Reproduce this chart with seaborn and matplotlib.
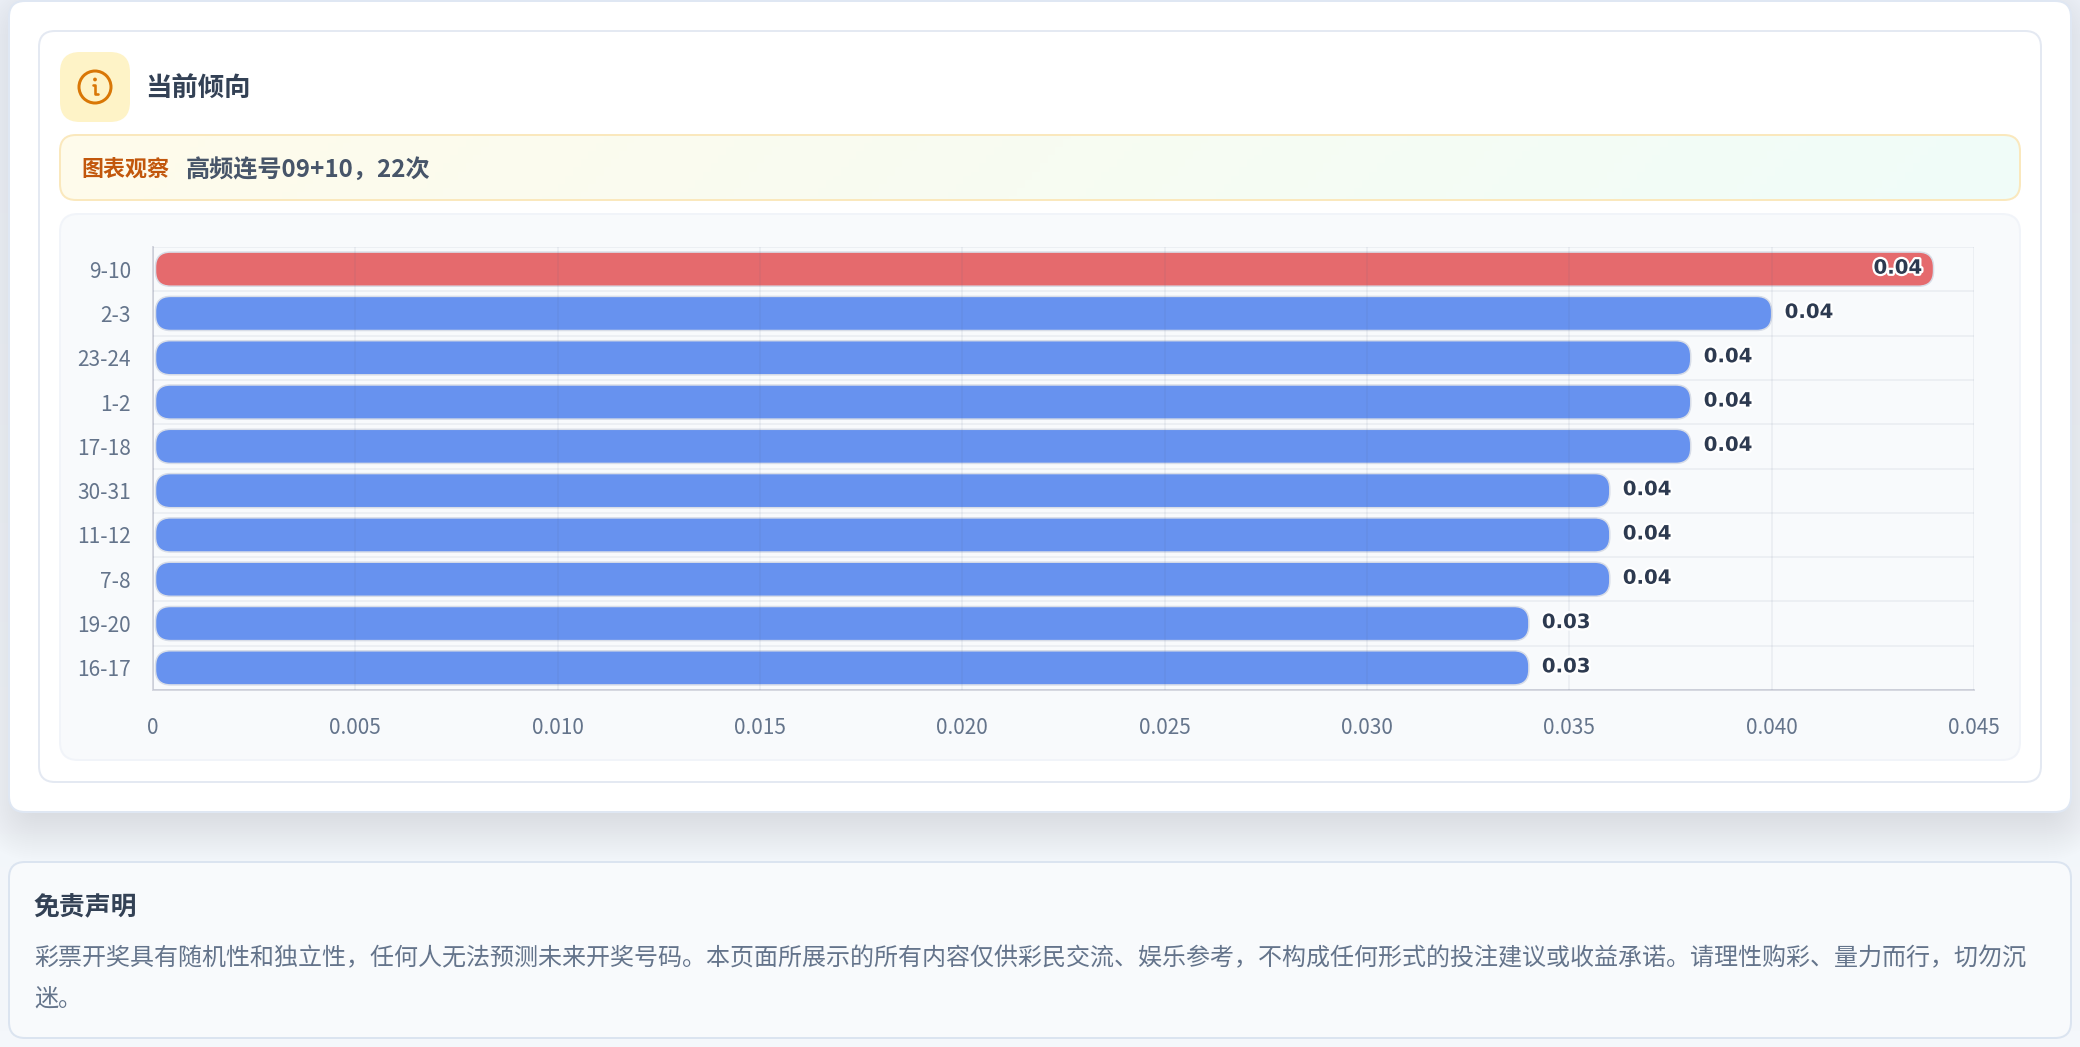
import numpy as np
import pandas as pd
import matplotlib
matplotlib.use("Agg")
import matplotlib.pyplot as plt
import matplotlib.patheffects as pe
from matplotlib.patches import FancyBboxPatch, Circle
import seaborn as sns

# values
pairs = ["9-10", "2-3", "23-24", "1-2", "17-18", "30-31", "11-12", "7-8", "19-20", "16-17"]
rates = [0.044, 0.040, 0.038, 0.038, 0.038, 0.036, 0.036, 0.036, 0.034, 0.034]
x_ticks = [0, 0.005, 0.010, 0.015, 0.020, 0.025, 0.030, 0.035, 0.040, 0.045]
x_tick_labels = ["0", "0.005", "0.010", "0.015", "0.020", "0.025", "0.030", "0.035", "0.040", "0.045"]

section_title = "当前倾向"
note_label = "图表观察"
note_text = "高频连号09+10，22次"
disclaimer_title = "免责声明"
disclaimer_lines = [
    "彩票开奖具有随机性和独立性，任何人无法预测未来开奖号码。本页面所展示的所有内容仅供彩民交流、娱乐参考，不构成任何形式的投注建议或收益承诺。请理性购彩、量力而行，切勿沉",
    "迷。",
]

W, H = 2080, 1047
PX = 0.72  # points per pixel at dpi 100
AX_BOX = (153, 247, 1974, 690)  # plot area in page pixels

sns.set_theme(style="white")
plt.rcParams["font.family"] = ["Noto Sans CJK SC", "DejaVu Sans"]

fig = plt.figure(figsize=(W / 100, H / 100), dpi=100)
bg = fig.add_axes([0, 0, 1, 1])
bg.set_xlim(0, W)
bg.set_ylim(H, 0)
bg.axis("off")


def card(x0, y0, x1, y1, r, fc, ec="none", lw=0, alpha=None, zorder=1):
    box = FancyBboxPatch((x0, y0), x1 - x0, y1 - y0, boxstyle=f"round,pad=0,rounding_size={r}",
                         fc=fc, ec=ec, lw=lw * PX, alpha=alpha, zorder=zorder)
    bg.add_patch(box)
    return box


# page background
page = np.linspace(0, 1, 64).reshape(-1, 1)
bg.imshow(page, cmap=matplotlib.colors.LinearSegmentedColormap.from_list("page", ["#eef2f9", "#f4f7fb"]),
          extent=(0, W, H, 0), aspect="auto", zorder=0)

# soft shadow under the top card
for i in range(24):
    g = i * 2.0
    card(24 - g, 1 + 24 - g, 2056 + g, 812 + 3 + g, 16 + g, "#334155", alpha=0.0042, zorder=0.5)

card(9, 1, 2071, 812, 16, "#ffffff", "#dfe7f3", 2, zorder=1)
card(39, 31, 2041, 782, 16, "#ffffff", "#e4e9f2", 2, zorder=1.1)

# icon
card(60, 52, 130, 122, 20, "#fef3c7", zorder=1.2)
bg.add_patch(Circle((95, 87), 16, fc="none", ec="#d97706", lw=3 * PX, zorder=1.3))
bg.add_patch(Circle((95, 79.5), 1.9, fc="#d97706", ec="none", zorder=1.3))
bg.plot([92.5, 95, 95, 98], [85, 85, 94, 94], color="#d97706", lw=2.6 * PX, zorder=1.3)

bg.text(145, 89.5, section_title, fontsize=19, fontweight="bold", color="#334155", va="center", zorder=2)

# note banner with a diagonal gradient
banner = card(60, 135, 2020, 200, 16, "none", "#fae8bd", 2, zorder=1.4)
xx, yy = np.meshgrid(np.linspace(0, 1, 256), np.linspace(0, 1, 16))
grad = bg.imshow(xx * 0.97 + yy * 0.03,
                 cmap=matplotlib.colors.LinearSegmentedColormap.from_list("note", ["#fffbeb", "#f0fdf9"]),
                 extent=(60, 2020, 200, 135), aspect="auto", zorder=1.3)
grad.set_clip_path(banner)
bg.set_xlim(0, W)
bg.set_ylim(H, 0)
bg.text(81, 170, note_label, fontsize=15.8, fontweight="bold", color="#c2570c", va="center", zorder=2)
bg.text(186, 170, note_text, fontsize=17.4, fontweight="bold", color="#475569", va="center", zorder=2)

# chart panel
card(60, 214, 2020, 760, 18, "#f8fafc", "#f1f4f9", 2, zorder=1.4)

# disclaimer card
card(9, 862, 2071, 1038, 16, "#f8fafc", "#dbe4f0", 2, zorder=1)
bg.text(34, 907.5, disclaimer_title, fontsize=18.6, fontweight="bold", color="#334155", va="center", zorder=2)
for line, yc in zip(disclaimer_lines, (958, 999)):
    bg.text(34, yc, line, fontsize=17.3, color="#64748b", va="center", zorder=2)

# bar chart
df = pd.DataFrame({"pair": pairs, "rate": rates})
df["top"] = df["rate"] == df["rate"].max()

l, t, r, b = AX_BOX
ax = fig.add_axes([l / W, 1 - b / H, (r - l) / W, (b - t) / H], facecolor="none")
sns.barplot(data=df, x="rate", y="pair", hue="top", palette={True: "#e56a6d", False: "#6792ef"},
            width=0.77, dodge=False, saturation=1, legend=False, ax=ax)
ax.set_xlim(0, 0.045)
ax.set_ylim(len(pairs) - 0.5, -0.5)
ax.set_xlabel("")
ax.set_ylabel("")

# swap the square bars for rounded ones, same geometry
x_px = (r - l) / 0.045
y_px = (b - t) / len(pairs)
for bar in list(ax.patches):
    x0, y0, w, h = bar.get_x(), bar.get_y(), bar.get_width(), bar.get_height()
    color = bar.get_facecolor()
    bar.remove()
    left = x0 + 2.5 / x_px
    ax.add_patch(FancyBboxPatch((left, y0), x0 + w - left, h,
                                boxstyle=f"round,pad=0,rounding_size={15 / x_px}",
                                mutation_aspect=x_px / y_px, fc=color, ec="#d8dde7", lw=1.5 * PX, zorder=2))

grid_rgb = (0.30, 0.36, 0.50)
tick_c = "#e9ecf3"
ax.set_axisbelow(False)
ax.set_xticks(x_ticks)
ax.set_xticklabels(x_tick_labels)
ax.set_yticks(np.arange(-0.5, len(pairs)), minor=True)
ax.grid(axis="x", which="major", color=grid_rgb, alpha=0.09, lw=1.5 * PX)
ax.grid(axis="y", which="minor", color=grid_rgb, alpha=0.09, lw=1.5 * PX)
ax.grid(axis="y", which="major", visible=False)
ax.tick_params(axis="x", which="major", length=16 * PX, width=1.5 * PX, color=tick_c,
               labelsize=15, labelcolor="#64748b", pad=10.5 * PX)
ax.tick_params(axis="y", which="major", length=0, labelsize=15, labelcolor="#64748b", pad=22 * PX)
ax.tick_params(axis="y", which="minor", length=16 * PX, width=1.5 * PX, color=tick_c)

sns.despine(ax=ax)
for side in ("left", "bottom"):
    ax.spines[side].set_color("#d6d8e0")
    ax.spines[side].set_linewidth(2 * PX)

halo = [pe.withStroke(linewidth=3 * PX * 1.5, foreground="white")]
for i, v in enumerate(rates):
    if v == max(rates):
        ax.annotate(f"{v:.2f}", (v, i), xytext=(-11 * PX, 1 * PX), textcoords="offset points",
                    ha="right", va="center", family="DejaVu Sans", fontweight="bold", fontsize=14.2,
                    color="#2d3a50", path_effects=halo, zorder=5)
    else:
        ax.annotate(f"{v:.2f}", (v, i), xytext=(13 * PX, 1 * PX), textcoords="offset points",
                    ha="left", va="center", family="DejaVu Sans", fontweight="bold", fontsize=14.2,
                    color="#2d3a50", path_effects=halo, zorder=5)

fig.savefig("out.png", dpi=100)
